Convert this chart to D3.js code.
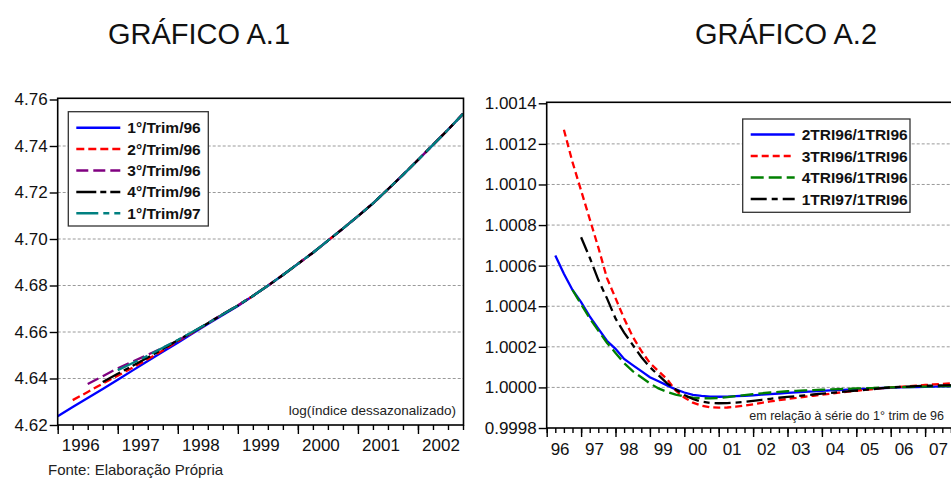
<!DOCTYPE html>
<html>
<head>
<meta charset="utf-8">
<script src="https://cdn.jsdelivr.net/npm/d3@7"></script>
<style>
  html, body { margin: 0; padding: 0; background: #fff; }
  svg { display: block; font-family: "Liberation Sans", Arial, sans-serif; }
  .grid line { stroke: #9a9a9a; stroke-width: 1; stroke-dasharray: 3,2; }
  .axis path { display: none; }
  .axis line { stroke: #000; stroke-width: 1.4; }
  .axis text { font-size: 17px; fill: #111; }
  .legend text { font-size: 15.5px; font-weight: bold; fill: #111; }
</style>
</head>
<body>
<svg id="chart" width="951" height="479"></svg>
<script>
// ---- data: left chart (quarters 1996Q1 .. 2002Q4) ----
const yearLabelsL = ["1996", "1997", "1998", "1999", "2000", "2001", "2002"];
const yTicksL = [4.62, 4.64, 4.66, 4.68, 4.70, 4.72, 4.74, 4.76];
const gridL = [4.64, 4.66, 4.68, 4.70, 4.72, 4.74];

// shared tail (index 13 onwards)
const tailL = [4.6755, 4.6799, 4.6845, 4.6893, 4.6941, 4.6993, 4.7045, 4.7098,
               4.7153, 4.7214, 4.7276, 4.7340, 4.7405, 4.7470, 4.7538];
const trim1_96 = [4.6238, 4.6277, 4.6316, 4.6355, 4.6395, 4.6435, 4.6475, 4.6515,
                  4.6554, 4.6594, 4.6634, 4.6673, 4.6712].concat(tailL);
const trim2_96 = [null, 4.6307, 4.6342, 4.6378, 4.6412, 4.6447, 4.6483, 4.6520,
                  4.6560, 4.6598, 4.6637, 4.6676, 4.6714].concat(tailL);
const trim3_96 = [null, null, 4.6376, 4.6410, 4.6444, 4.6473, 4.6502, 4.6532,
                  4.6563, 4.6599, 4.6638, 4.6677, 4.6715].concat(tailL);
const trim4_96 = [null, null, null, 4.6385, 4.6420, 4.6455, 4.6490, 4.6527,
                  4.6565, 4.6600, 4.6638, 4.6676, 4.6714].concat(tailL);
const trim1_97 = [null, null, null, null, 4.6436, 4.6467, 4.6498, 4.6532,
                  4.6566, 4.6601, 4.6638, 4.6676, 4.6714].concat(tailL);

const namesL = ["1°/Trim/96", "2°/Trim/96", "3°/Trim/96", "4°/Trim/96", "1°/Trim/97"];
const valuesL = [trim1_96, trim2_96, trim3_96, trim4_96, trim1_97];

// ---- data: right chart (quarters 1996Q1 .. 2007Q4) ----
const yearLabelsR = ["96", "97", "98", "99", "00", "01", "02", "03", "04", "05", "06", "07"];
const yTicksR = [0.9998, 1.0000, 1.0002, 1.0004, 1.0006, 1.0008, 1.0010, 1.0012, 1.0014];
const gridR = [1.0000, 1.0002, 1.0004, 1.0006, 1.0008, 1.0010, 1.0012];

const tri2_96 = [null, 1.00065, 1.00056, 1.00048, 1.00042, 1.00035, 1.00029, 1.00023,
  1.00019, 1.00014, 1.00011, 1.00008, 1.00005, 1.00003, 1.00001, 0.99999,
  0.999975, 0.999963, 0.999958, 0.999955, 0.999954, 0.999955, 0.999957, 0.999959,
  0.999961, 0.999964, 0.999967, 0.99997, 0.999973, 0.999976, 0.999978, 0.99998,
  0.999983, 0.999985, 0.999987, 0.999989, 0.999991, 0.999993, 0.999995, 0.999997,
  0.999998, 1.0, 1.000001, 1.000002, 1.000003, 1.000004, 1.000005, 1.000005];
const tri3_96 = [null, null, 1.00127, 1.00111, 1.00097, 1.00083, 1.00069, 1.00054,
  1.00044, 1.00034, 1.00025, 1.00018, 1.00012, 1.00008, 1.00004, 0.999985,
  0.99995, 0.999925, 0.99991, 0.999902, 0.9999, 0.999901, 0.999905, 0.99991,
  0.999917, 0.999924, 0.999931, 0.999937, 0.999943, 0.999948, 0.999954, 0.999959,
  0.999964, 0.999969, 0.999974, 0.999979, 0.999983, 0.999988, 0.999992, 0.999996,
  1.0, 1.000003, 1.000006, 1.000009, 1.000012, 1.000015, 1.000017, 1.00002];
const tri4_96 = [null, null, null, 1.00048, 1.00041, 1.00034, 1.00028, 1.00022,
  1.00017, 1.00012, 1.00008, 1.00005, 1.00002, 0.999995, 0.999978, 0.999965,
  0.999955, 0.99995, 0.999947, 0.999946, 0.999948, 0.999952, 0.999957, 0.999962,
  0.999967, 0.999971, 0.999975, 0.999978, 0.999981, 0.999983, 0.999985, 0.999987,
  0.999989, 0.99999, 0.999992, 0.999993, 0.999995, 0.999996, 0.999997, 0.999999,
  1.0, 1.000001, 1.000002, 1.000003, 1.000004, 1.000005, 1.000006, 1.000007];
const tri1_97 = [null, null, null, null, 1.00074, 1.00064, 1.00053, 1.00044,
  1.00034, 1.00027, 1.00021, 1.00015, 1.0001, 1.00006, 1.00002, 0.99999,
  0.999963, 0.999943, 0.99993, 0.999924, 0.999922, 0.999923, 0.999925, 0.999929,
  0.999934, 0.999939, 0.999944, 0.999949, 0.999953, 0.999957, 0.999961, 0.999965,
  0.999969, 0.999973, 0.999977, 0.99998, 0.999984, 0.999988, 0.999992, 0.999996,
  1.0, 1.000002, 1.000004, 1.000006, 1.000008, 1.000009, 1.00001, 1.000011];

const namesR = ["2TRI96/1TRI96", "3TRI96/1TRI96", "4TRI96/1TRI96", "1TRI97/1TRI96"];
const valuesR = [tri2_96, tri3_96, tri4_96, tri1_97];

// ---- styles ----
const stylesL = [
  { color: "#0000ff", dash: null },
  { color: "#ff0000", dash: "8,4" },
  { color: "#800080", dash: "12,5" },
  { color: "#000000", dash: "20,4,6,4" },
  { color: "#008080", dash: "22,5,6,5" }
];
const stylesR = [
  { color: "#0000ff", dash: null },
  { color: "#ff0000", dash: "7,4" },
  { color: "#008000", dash: "13,5" },
  { color: "#000000", dash: "16,5,6,5" }
];

const svg = d3.select("#chart");
svg.append("rect").attr("width", 951).attr("height", 479).attr("fill", "#fff");

function drawPanel(opt) {
  const g = svg.append("g");
  const x = d3.scaleLinear().domain([0, opt.nObs - 1]).range([opt.left, opt.right]);
  const y = d3.scaleLinear().domain(opt.yDomain).range([opt.bottom, opt.yTopTick]);

  // grid
  g.append("g").attr("class", "grid")
    .selectAll("line").data(opt.grid).join("line")
    .attr("x1", opt.left).attr("x2", opt.frameRight)
    .attr("y1", d => y(d)).attr("y2", d => y(d));

  // series
  const line = d3.line()
    .defined(d => d != null)
    .x((d, i) => x(i))
    .y(d => y(d));
  opt.values.forEach((vals, k) => {
    g.append("path")
      .attr("d", line(vals))
      .attr("fill", "none")
      .attr("stroke", opt.styles[k].color)
      .attr("stroke-width", 2.3)
      .attr("stroke-dasharray", opt.styles[k].dash);
  });

  // frame
  g.append("rect")
    .attr("x", opt.left).attr("y", opt.frameTop)
    .attr("width", opt.frameRight - opt.left)
    .attr("height", opt.bottom - opt.frameTop)
    .attr("fill", "none").attr("stroke", "#000").attr("stroke-width", 1.6);

  // y axis
  g.append("g").attr("class", "axis")
    .attr("transform", `translate(${opt.left},0)`)
    .call(d3.axisLeft(y).tickValues(opt.yTicks).tickSize(8).tickPadding(2)
      .tickFormat(d3.format(opt.yFmt)));

  // x axis: quarterly minor ticks, yearly major ticks, labels centred on each year
  const idx = d3.range(opt.nObs);
  g.append("g").attr("class", "axis")
    .attr("transform", `translate(0,${opt.bottom})`)
    .call(d3.axisBottom(x).tickValues(idx).tickSize(5).tickFormat(""));
  g.append("g").attr("class", "axis")
    .attr("transform", `translate(0,${opt.bottom})`)
    .call(d3.axisBottom(x).tickValues(idx.filter(i => i % 4 === 0)).tickSize(9).tickFormat(""));
  g.append("g").attr("class", "axis")
    .attr("transform", `translate(0,${opt.bottom})`)
    .call(d3.axisBottom(x).tickValues(opt.years.map((d, i) => i * 4 + 1.5))
      .tickSize(0).tickPadding(opt.labelPad)
      .tickFormat((d, i) => opt.years[i]));

  // legend
  const lg = g.append("g").attr("class", "legend");
  lg.append("rect")
    .attr("x", opt.legend.x).attr("y", opt.legend.y)
    .attr("width", opt.legend.w).attr("height", opt.legend.h)
    .attr("fill", "#fff").attr("stroke", "#333").attr("stroke-width", 1.3);
  opt.names.forEach((name, k) => {
    const cy = opt.legend.y + opt.legend.row0 + k * opt.legend.step;
    lg.append("line")
      .attr("x1", opt.legend.x + 8).attr("x2", opt.legend.x + 52)
      .attr("y1", cy).attr("y2", cy)
      .attr("stroke", opt.styles[k].color).attr("stroke-width", 2.5)
      .attr("stroke-dasharray", opt.styles[k].dash);
    lg.append("text")
      .attr("x", opt.legend.x + 59).attr("y", cy)
      .attr("dy", "0.36em")
      .text(name);
  });

  // note
  g.append("text")
    .attr("x", opt.note.x).attr("y", opt.note.y)
    .attr("text-anchor", "end")
    .attr("font-size", opt.note.size)
    .attr("fill", "#222")
    .text(opt.note.text);

  // title
  svg.append("text")
    .attr("x", opt.titleX).attr("y", 44)
    .attr("text-anchor", "middle")
    .attr("font-size", 29)
    .attr("fill", "#111")
    .text(opt.title);
}

drawPanel({
  title: "GRÁFICO A.1", titleX: 199,
  nObs: 28, left: 57.7, right: 463, frameRight: 463.5,
  frameTop: 98.3, bottom: 425, yTopTick: 99.5,
  yDomain: [4.62, 4.76], yTicks: yTicksL, grid: gridL, yFmt: ".2f",
  years: yearLabelsL, labelPad: 14,
  values: valuesL, styles: stylesL, names: namesL,
  legend: { x: 68.3, y: 111.7, w: 140, h: 114.3, row0: 16, step: 21.4 },
  note: { x: 456, y: 415, size: 13.5, text: "log(índice dessazonalizado)" }
});

drawPanel({
  title: "GRÁFICO A.2", titleX: 786,
  nObs: 48, left: 546.7, right: 950.9, frameRight: 953,
  frameTop: 102.3, bottom: 428, yTopTick: 103.3,
  yDomain: [0.9998, 1.0014], yTicks: yTicksR, grid: gridR, yFmt: ".4f",
  years: yearLabelsR, labelPad: 15,
  values: valuesR, styles: stylesR, names: namesR,
  legend: { x: 742.7, y: 119, w: 167.3, h: 93.3, row0: 15.5, step: 21.5 },
  note: { x: 944, y: 420, size: 12.5, text: "em relação à série do 1° trim de 96" }
});

svg.append("text")
  .attr("x", 48).attr("y", 475)
  .attr("font-size", 15)
  .attr("fill", "#222")
  .text("Fonte: Elaboração Própria");
</script>
</body>
</html>
